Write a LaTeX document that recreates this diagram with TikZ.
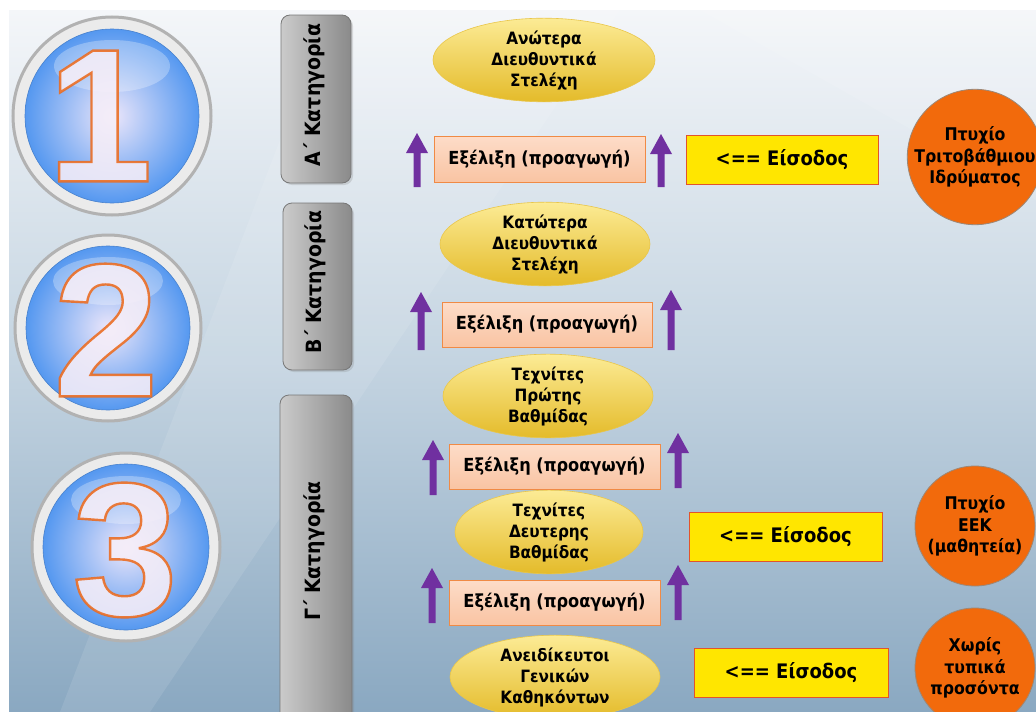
\documentclass[tikz,border=0pt]{standalone}
\usepackage{fontspec}
\setmainfont{DejaVu Sans}
\newfontfamily\lblfont{DejaVu Sans}[FakeStretch=0.9]
\newfontfamily\digitfont{Liberation Sans}
\usetikzlibrary{shapes.geometric,shadows,calc}

\definecolor{bgtop}{HTML}{F4F6F9}
\definecolor{bgmid}{HTML}{C4D4E1}
\definecolor{bgbot}{HTML}{8AA8C1}
\definecolor{ringfill}{HTML}{EBEBEB}
\definecolor{ringdraw}{HTML}{B2B2B2}
\definecolor{ballin}{HTML}{ECE6FA}
\definecolor{ballout}{HTML}{5598F0}
\definecolor{digitline}{HTML}{EA6A1E}
\definecolor{digitfill}{HTML}{F6EEF8}
\definecolor{barlight}{HTML}{CBCBCB}
\definecolor{bardark}{HTML}{8A8A8A}
\definecolor{baredge}{HTML}{777777}
\definecolor{elltop}{HTML}{FCEB95}
\definecolor{ellbot}{HTML}{E4BB2A}
\definecolor{elledge}{HTML}{E9C64A}
\definecolor{peachtop}{HTML}{FDDCC8}
\definecolor{peachbot}{HTML}{F9C4A3}
\definecolor{peachedge}{HTML}{F08A45}
\definecolor{arrowpurple}{HTML}{7030A0}
\definecolor{entryfill}{HTML}{FFE600}
\definecolor{entryedge}{HTML}{E2542B}
\definecolor{degfill}{HTML}{F26A0C}
\definecolor{degedge}{HTML}{9C8878}

% outlined digit: fill + stroke text rendering
\newcommand\outlined[1]{\special{pdf:literal direct 2 Tr 2.4 w 0.92 0.42 0.12 RG}#1\special{pdf:literal direct 0 Tr}}
% upward block arrow: x, bottom y, tip y
\newcommand\promoarrow[3]{\fill[uparrow] (#1-3.5,-#2) -- (#1-3.5,-#3-20) -- (#1-11,-#3-20) -- (#1,-#3) -- (#1+11,-#3-20) -- (#1+3.5,-#3-20) -- (#1+3.5,-#2) -- cycle;}

\tikzset{
  ring/.style={circle, fill=ringfill, draw=ringdraw, line width=3pt, inner sep=0pt},
  ball/.style={circle, inner sep=0pt, inner color=ballin, outer color=ballout, draw=ballout!85!black, line width=0.6pt},
  glare/.style={white, opacity=0.28},
  digit/.style={inner sep=0pt, font=\digitfont\bfseries\fontsize{190}{190}\selectfont, text=digitfill, text opacity=0.88},
  catbar/.style={rectangle, rounded corners=9pt, draw=baredge, line width=0.8pt, left color=barlight, right color=bardark, inner sep=0pt,
    drop shadow={opacity=0.25, shadow xshift=2pt, shadow yshift=-2pt}},
  cattext/.style={rotate=90, font=\lblfont\bfseries\fontsize{21}{21}\selectfont, text=black, inner sep=0pt},
  rank/.style={ellipse, inner sep=0pt, top color=elltop, bottom color=ellbot, draw=elledge, line width=0.6pt, align=center,
    font=\lblfont\bfseries\fontsize{17}{21}\selectfont, text=black},
  promo/.style={rectangle, inner sep=0pt, top color=peachtop, bottom color=peachbot, draw=peachedge, line width=0.8pt,
    font=\lblfont\bfseries\fontsize{18}{18}\selectfont, text=black},
  uparrow/.style={fill=arrowpurple},
  entry/.style={rectangle, inner sep=0pt, fill=entryfill, draw=entryedge, line width=0.8pt,
    font=\lblfont\bfseries\fontsize{20}{20}\selectfont, text=black},
  degree/.style={circle, inner sep=0pt, fill=degfill, draw=degedge, line width=0.8pt, align=center,
    font=\lblfont\bfseries\fontsize{17.5}{21.5}\selectfont, text=black},
}

\begin{document}
\begin{tikzpicture}[x=1pt,y=1pt]
\useasboundingbox (0,0) rectangle (1036,-712);
\fill[white] (0,0) rectangle (1036,-712);
% background panel
\shade[top color=bgtop, bottom color=bgbot, middle color=bgmid] (9,-10) rectangle (1036,-712);
\fill[white, opacity=0.10] (330,-10) -- (620,-10) -- (150,-712) -- (60,-712) -- cycle;
\fill[white, opacity=0.10] (700,-10) -- (1036,-10) -- (1036,-200) -- cycle;

% numbered balls
\node[ring, minimum size=198pt] (r1) at (112,-116) {};
\node[ball, minimum size=174pt] (b1) at (r1) {};
\fill[glare] ($(b1)+(0,50)$) ellipse (58 and 26);
\node[digit] (d1) at (100,-116) {\outlined{1}};

\node[ring, minimum size=186pt] (r2) at (108,-328) {};
\node[ball, minimum size=164pt] (b2) at (r2) {};
\fill[glare] ($(b2)+(0,47)$) ellipse (55 and 24);
\node[digit] (d2) at (106,-330) {\outlined{2}};

\node[ring, minimum size=188pt] (r3) at (126,-547) {};
\node[ball, minimum size=166pt] (b3) at (r3) {};
\fill[glare] ($(b3)+(0,47)$) ellipse (55 and 24);
\node[digit] (d3) at (125,-550) {\outlined{3}};

% category bars
\node[catbar, minimum width=70pt, minimum height=168pt] (ca) at (316,-99) {};
\node[cattext] (ta) at (314,-95) {Α΄ Κατηγορία};
\node[catbar, minimum width=69pt, minimum height=167pt] (cb) at (317.5,-286.5) {};
\node[cattext] (tb) at (315,-282) {Β΄ Κατηγορία};
\node[catbar, minimum width=72pt, minimum height=330pt] (cc) at (316,-560) {};
\node[cattext] (tc) at (314,-551) {Γ΄ Κατηγορία};

% job grades
\node[rank, minimum width=222pt, minimum height=80pt] (e1) at (544,-60) {Ανώτερα\\Διευθυντικά\\Στελέχη};
\node[rank, minimum width=210pt, minimum height=78pt] (e2) at (545,-244) {Κατώτερα\\Διευθυντικά\\Στελέχη};
\node[rank, minimum width=210pt, minimum height=82pt] (e3) at (548,-396) {Τεχνίτες\\Πρώτης\\Βαθμίδας};
\node[rank, minimum width=188pt, minimum height=72pt] (e4) at (549,-532) {Τεχνίτες\\Δευτερης\\Βαθμίδας};
\node[rank, minimum width=210pt, minimum height=80pt] (e5) at (555,-677) {Ανειδίκευτοι\\Γενικών\\Καθηκόντων};

% promotions
\node[promo, minimum width=211pt, minimum height=46pt] (p1) at (539.5,-159) {Εξέλιξη (προαγωγή)};
\node[promo, minimum width=210pt, minimum height=45pt] (p2) at (547,-324.5) {Εξέλιξη (προαγωγή)};
\node[promo, minimum width=211pt, minimum height=45pt] (p3) at (554.5,-466.5) {Εξέλιξη (προαγωγή)};
\node[promo, minimum width=211pt, minimum height=45pt] (p4) at (554.5,-602.5) {Εξέλιξη (προαγωγή)};

\promoarrow{417}{187}{133}
\promoarrow{661}{187}{134}
\promoarrow{421}{350}{292}
\promoarrow{671}{350}{290}
\promoarrow{433}{495}{440}
\promoarrow{678}{488}{433}
\promoarrow{432}{623}{568}
\promoarrow{678}{620}{565}

% entry points
\node[entry, minimum width=192pt, minimum height=49pt] (y1) at (782,-159.5) {<== Είσοδος};
\node[entry, minimum width=193pt, minimum height=49pt] (y2) at (785.5,-536.5) {<== Είσοδος};
\node[entry, minimum width=194pt, minimum height=49pt] (y3) at (791,-672.5) {<== Είσοδος};

% qualifications
\node[degree, minimum size=126pt] (q1) at (975,-157) {Πτυχίο\\Τριτοβάθμιου\\Ιδρύματος};
\node[degree, minimum size=120pt] (q2) at (975,-526) {Πτυχίο\\ΕΕΚ\\(μαθητεία)};
\node[degree, minimum size=120pt] (q3) at (975,-668) {Χωρίς\\τυπικά\\προσόντα};
\end{tikzpicture}
\end{document}
